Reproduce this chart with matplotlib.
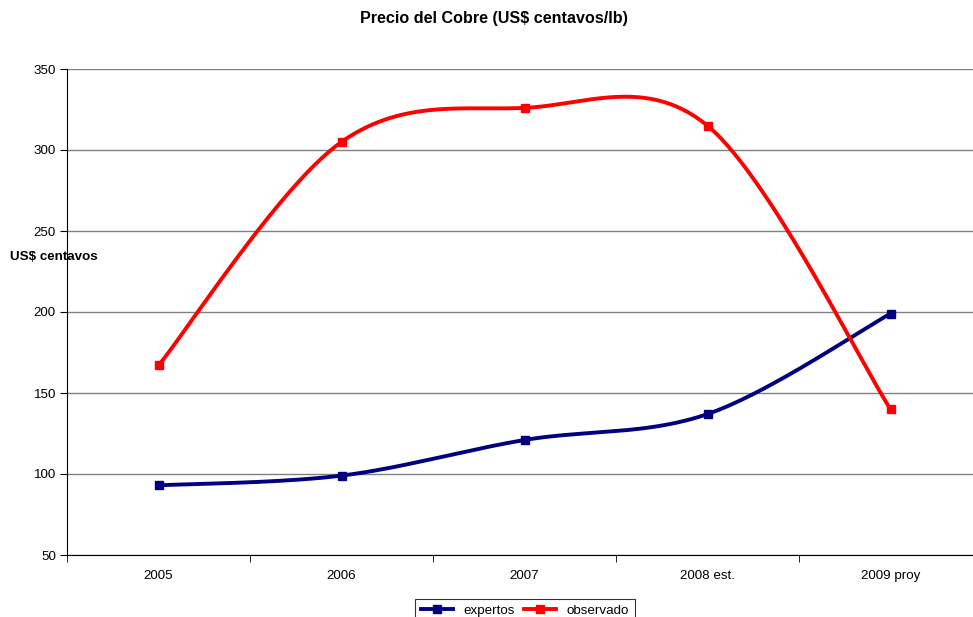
import numpy as np
import matplotlib.pyplot as plt

plt.rcParams['font.family'] = ['Liberation Sans', 'DejaVu Sans']

years = ["2005", "2006", "2007", "2008 est.", "2009 proy"]
expertos = [93, 99, 121, 137, 199]
observado = [167, 305, 326, 315, 140]


# smooth curve through the points (cubic bezier, catmull-rom style tangents)
def smooth(y, n=60):
    x = np.arange(len(y), dtype=float)
    y = np.asarray(y, dtype=float)
    xs, ys = [], []
    for i in range(len(y) - 1):
        a = max(i - 1, 0)
        b = min(i + 2, len(y) - 1)
        c1x = x[i] + (x[i + 1] - x[a]) / 6
        c1y = y[i] + (y[i + 1] - y[a]) / 6
        c2x = x[i + 1] - (x[b] - x[i]) / 6
        c2y = y[i + 1] - (y[b] - y[i]) / 6
        t = np.linspace(0, 1, n)
        xs.append((1 - t)**3 * x[i] + 3 * (1 - t)**2 * t * c1x + 3 * (1 - t) * t**2 * c2x + t**3 * x[i + 1])
        ys.append((1 - t)**3 * y[i] + 3 * (1 - t)**2 * t * c1y + 3 * (1 - t) * t**2 * c2y + t**3 * y[i + 1])
    return np.concatenate(xs), np.concatenate(ys)


fig = plt.figure(figsize=(9.73, 6.17), dpi=100)
ax = fig.add_axes([67 / 973, 62 / 617, 915 / 973, 486 / 617])

x = np.arange(len(years))
for vals, col, lab in [(expertos, '#000080', 'expertos'), (observado, '#ff0000', 'observado')]:
    sx, sy = smooth(vals)
    ax.plot(sx, sy, color=col, lw=2.8, solid_capstyle='butt')
    ax.plot(x, vals, ls='none', marker='s', ms=5.2, color=col)
    ax.plot([], [], color=col, lw=2.8, marker='s', ms=5.2, label=lab)

ax.set_xlim(-0.5, 4.5)
ax.set_ylim(50, 350)
ax.set_yticks(range(50, 351, 50))
ax.yaxis.grid(True, color='#808080', lw=1)
ax.set_axisbelow(True)
ax.set_xticks(x)
ax.set_xticklabels(years)
ax.set_xticks(np.arange(-0.5, 4.6, 1), minor=True)
ax.tick_params(axis='x', which='major', length=0, pad=11, labelsize=9.6)
ax.tick_params(axis='x', which='minor', length=5, direction='out')
ax.tick_params(axis='y', length=5, direction='out', labelsize=9.6, pad=3)
for s in ['top', 'right']:
    ax.spines[s].set_visible(False)

fig.text(494 / 973, 1 - 18 / 617, 'Precio del Cobre (US$ centavos/lb)', ha='center', va='center',
         fontsize=11.6, fontweight='bold')
fig.text(10 / 973, 1 - 257 / 617, 'US$ centavos', ha='left', va='center', fontsize=9.6, fontweight='bold')

leg = fig.legend(loc='upper center', bbox_to_anchor=(525 / 973, 1 - 599 / 617), ncol=2, fontsize=9.6,
                 frameon=True, fancybox=False, edgecolor='black', handlelength=2.4,
                 borderpad=0.4, borderaxespad=0, columnspacing=0.7, handletextpad=0.8)
leg.get_frame().set_linewidth(0.8)

fig.savefig('out.png', dpi=100)
